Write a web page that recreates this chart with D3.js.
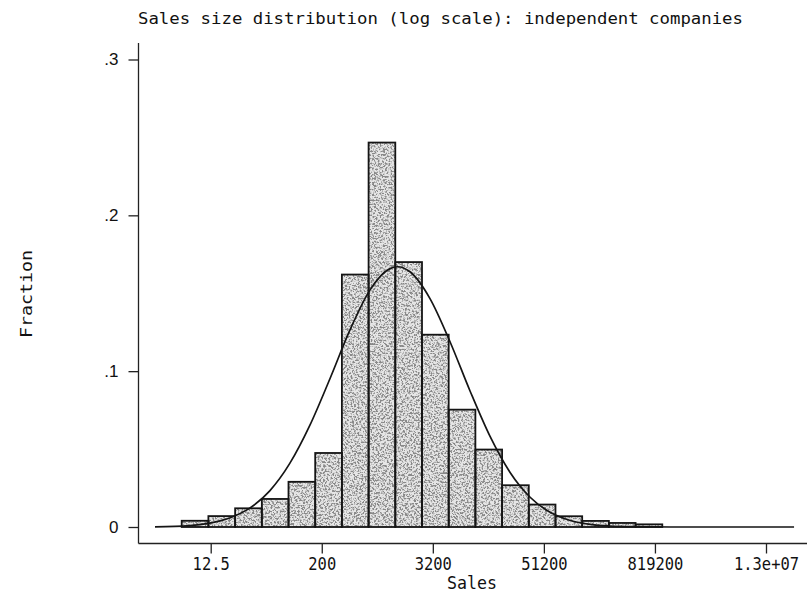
<!DOCTYPE html>
<html>
<head>
<meta charset="utf-8">
<script src="https://cdn.jsdelivr.net/npm/d3@7"></script>
<style>
  body { margin: 0; background: #fff; }
  svg { display: block; }
</style>
</head>
<body>
<div id="chart"></div>
<script>
// Lower edges of each histogram bin (Sales, log spaced), last value closes the final bin
var binEdges = [6.06, 11.8, 23.0, 44.8, 87.2, 169.8, 330.6, 643.9, 1254, 2442, 4755,
  9261, 18034, 35120, 68400, 133200, 259400, 505200, 984000];

// Fraction of companies in each bin
var binFractions = [0.004, 0.007, 0.012, 0.018, 0.029, 0.0475, 0.162, 0.2467, 0.170,
  0.1234, 0.0753, 0.0497, 0.0268, 0.0144, 0.0069, 0.0039, 0.0026, 0.0017];

// Normal overlay, points
var curveSales = [3.11, 7.39, 12.18, 20.09, 33.1, 54.6, 90.0, 148.4, 244.7, 403.4, 665.1,
  1096.6, 1326, 1808, 2981, 4915, 8103, 13360, 22026, 36316, 59874, 98716, 162755,
  268337, 442413, 1202604, 26400000];
var curveFractions = [0.0001, 0.0009, 0.0025, 0.0058, 0.0121, 0.0232, 0.0408, 0.0652,
  0.0950, 0.1263, 0.152, 0.1658, 0.167, 0.1638, 0.1466, 0.1189, 0.0873, 0.0581, 0.0350,
  0.0191, 0.0094, 0.0042, 0.0017, 0.0006, 0.0002, 0, 0];

// Axis ticks
var xTickValues = [12.5, 200, 3200, 51200, 819200, 13107200];
var xTickLabels = ["12.5", "200", "3200", "51200", "819200", "1.3e+07"];
var yTickValues = [0, 0.1, 0.2, 0.3];
var yTickLabels = ["0", ".1", ".2", ".3"];

var width = 807;
var height = 598;

// Plot frame
var axisLeft = 138.5;
var axisBottom = 543.5;
var axisTop = 43;

var svg = d3.select("#chart")
  .append("svg")
  .attr("width", width)
  .attr("height", height);

var xScale = d3.scaleLog()
  .domain([12.5, 13107200])
  .range([210.7, 766]);

var yScale = d3.scaleLinear()
  .domain([0, 0.3])
  .range([527, 59.5]);

// Grainy stipple fill like the printed bars
var defs = svg.append("defs");
var filt = defs.append("filter")
  .attr("id", "stipple")
  .attr("filterUnits", "userSpaceOnUse")
  .attr("x", 0).attr("y", 0)
  .attr("width", width).attr("height", height);
filt.append("feTurbulence")
  .attr("type", "fractalNoise")
  .attr("baseFrequency", 0.55)
  .attr("numOctaves", 3)
  .attr("seed", 7)
  .attr("result", "noise");
filt.append("feColorMatrix")
  .attr("in", "noise")
  .attr("type", "matrix")
  .attr("values", "0 0 0 0 0.25  0 0 0 0 0.25  0 0 0 0 0.25  -5.5 0 0 0 3.05")
  .attr("result", "dots");
filt.append("feComposite")
  .attr("in", "dots").attr("in2", "SourceAlpha")
  .attr("operator", "in").attr("result", "tex");
filt.append("feFlood")
  .attr("flood-color", "#e6e6e6").attr("result", "bg");
filt.append("feComposite")
  .attr("in", "bg").attr("in2", "SourceAlpha")
  .attr("operator", "in").attr("result", "bgc");
var merge = filt.append("feMerge");
merge.append("feMergeNode").attr("in", "bgc");
merge.append("feMergeNode").attr("in", "tex");

// Histogram bins
var bins = binFractions.map(function(f, i) {
  return { x0: binEdges[i], x1: binEdges[i + 1], f: f };
});

svg.append("g")
  .attr("filter", "url(#stipple)")
  .selectAll("rect")
  .data(bins)
  .enter()
  .append("rect")
  .attr("x", function(d) { return xScale(d.x0); })
  .attr("y", function(d) { return yScale(d.f); })
  .attr("width", function(d) { return xScale(d.x1) - xScale(d.x0); })
  .attr("height", function(d) { return yScale(0) - yScale(d.f); })
  .attr("fill", "#000");

svg.append("g")
  .selectAll("rect")
  .data(bins)
  .enter()
  .append("rect")
  .attr("x", function(d) { return xScale(d.x0); })
  .attr("y", function(d) { return yScale(d.f); })
  .attr("width", function(d) { return xScale(d.x1) - xScale(d.x0); })
  .attr("height", function(d) { return yScale(0) - yScale(d.f); })
  .attr("fill", "none")
  .attr("stroke", "#151515")
  .attr("stroke-width", 1.8);

// Normal density overlay
var line = d3.line()
  .x(function(d) { return xScale(d[0]); })
  .y(function(d) { return yScale(d[1]); })
  .curve(d3.curveMonotoneX);

svg.append("path")
  .datum(curveSales.map(function(s, i) { return [s, curveFractions[i]]; }))
  .attr("d", line)
  .attr("fill", "none")
  .attr("stroke", "#151515")
  .attr("stroke-width", 1.7);

// Axes
var xAxis = d3.axisBottom(xScale)
  .tickValues(xTickValues)
  .tickSize(10)
  .tickSizeOuter(0)
  .tickFormat(function(d, i) { return xTickLabels[i]; });

var gx = svg.append("g")
  .attr("transform", "translate(0," + axisBottom + ")")
  .call(xAxis);
gx.select(".domain").remove();
gx.selectAll("line").attr("stroke", "#222").attr("stroke-width", 1.3);
gx.selectAll("text")
  .attr("y", 26)
  .attr("dy", 0)
  .attr("fill", "#111")
  .attr("font-family", "DejaVu Sans Mono")
  .attr("font-size", 17)
  .attr("textLength", function(d, i) { return xTickLabels[i].length * 9.3; })
  .attr("lengthAdjust", "spacingAndGlyphs");

var yAxis = d3.axisLeft(yScale)
  .tickValues(yTickValues)
  .tickSize(10)
  .tickSizeOuter(0)
  .tickFormat(function(d, i) { return yTickLabels[i]; });

var gy = svg.append("g")
  .attr("transform", "translate(" + axisLeft + ",0)")
  .call(yAxis);
gy.select(".domain").remove();
gy.selectAll("line").attr("stroke", "#222").attr("stroke-width", 1.3);
gy.selectAll("text")
  .attr("x", -20)
  .attr("fill", "#111")
  .attr("font-family", "Liberation Sans")
  .attr("font-size", 17);

// Axis lines span the whole frame
svg.append("line")
  .attr("x1", axisLeft).attr("x2", axisLeft)
  .attr("y1", axisTop).attr("y2", axisBottom)
  .attr("stroke", "#222").attr("stroke-width", 1.3);
svg.append("line")
  .attr("x1", axisLeft).attr("x2", width)
  .attr("y1", axisBottom).attr("y2", axisBottom)
  .attr("stroke", "#222").attr("stroke-width", 1.3);

// Title and axis labels
svg.append("text")
  .attr("x", 138)
  .attr("y", 24)
  .attr("font-family", "DejaVu Sans Mono")
  .attr("font-size", 15)
  .attr("fill", "#111")
  .attr("textLength", 605)
  .attr("lengthAdjust", "spacingAndGlyphs")
  .text("Sales size distribution (log scale): independent companies");

svg.append("text")
  .attr("x", 472)
  .attr("y", 589)
  .attr("text-anchor", "middle")
  .attr("font-family", "DejaVu Sans Mono")
  .attr("font-size", 17)
  .attr("fill", "#111")
  .attr("textLength", 50)
  .attr("lengthAdjust", "spacingAndGlyphs")
  .text("Sales");

svg.append("text")
  .attr("transform", "translate(32,294)rotate(-90)")
  .attr("text-anchor", "middle")
  .attr("font-family", "DejaVu Sans Mono")
  .attr("font-size", 15)
  .attr("fill", "#111")
  .attr("textLength", 88)
  .attr("lengthAdjust", "spacingAndGlyphs")
  .text("Fraction");
</script>
</body>
</html>
